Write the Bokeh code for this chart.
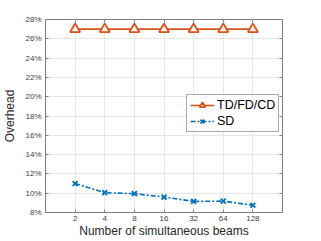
from bokeh.plotting import figure
from bokeh.models import FixedTicker, PrintfTickFormatter, LinearAxis, LogAxis, Legend, LegendItem, Range1d
from bokeh.embed import file_html
from bokeh.resources import INLINE

beams = [2, 4, 8, 16, 32, 64, 128]
beam_labels = ["2", "4", "8", "16", "32", "64", "128"]
td_fd_cd = [27.0, 27.0, 27.0, 27.0, 27.0, 27.0, 27.0]
sd = [11.0, 10.05, 9.95, 9.6, 9.15, 9.18, 8.75]
y_ticks = [8, 10, 12, 14, 16, 18, 20, 22, 24, 26, 28]

FONT = "Liberation Sans"
orange = "#D95319"
blue = "#0072BD"
axc = "#262626"

p = figure(width=305, height=240, output_backend="svg", toolbar_location=None,
           x_axis_type="log", x_range=Range1d(1, 256), y_range=Range1d(8, 28),
           min_border_left=10, min_border_right=23, min_border_top=19, min_border_bottom=0)
p.background_fill_color = "white"
p.border_fill_color = "white"
p.outline_line_color = "#808080"
p.outline_line_width = 1

for ax in (p.xaxis[0], p.yaxis[0]):
    ax.axis_line_color = "#808080"
    ax.major_tick_in = 3
    ax.major_tick_out = 0
    ax.minor_tick_line_color = None
    ax.major_tick_line_color = "#808080"
    ax.major_label_text_font = FONT
    ax.major_label_text_font_size = "8px"
    ax.major_label_text_color = "#404040"
    ax.axis_label_text_font = FONT
    ax.axis_label_text_font_size = "12px"
    ax.axis_label_text_font_style = "normal"
    ax.axis_label_text_color = axc

p.xaxis.ticker = FixedTicker(ticks=beams)
p.xaxis.major_label_overrides = {b: l for b, l in zip(beams, beam_labels)}
p.xaxis.axis_label = "Number of simultaneous beams"
p.xaxis.axis_label_standoff = 0
p.xaxis.major_label_standoff = 3

p.yaxis.ticker = FixedTicker(ticks=y_ticks)
p.yaxis.formatter = PrintfTickFormatter(format="%d%%")
p.yaxis.axis_label = "Overhead"
p.yaxis.axis_label_standoff = 5
p.yaxis.major_label_standoff = 4

# box ticks on top/right (no labels)
top = LogAxis(ticker=FixedTicker(ticks=beams),
              major_label_overrides={b: "" for b in beams},
              major_tick_in=3, major_tick_out=0, minor_tick_line_color=None,
              major_label_standoff=0,
              axis_line_color="#808080", major_tick_line_color="#808080")
right = LinearAxis(ticker=FixedTicker(ticks=y_ticks),
                   major_label_overrides={t: "" for t in y_ticks},
                   major_tick_in=3, major_tick_out=0, minor_tick_line_color=None,
                   major_label_standoff=0,
                   axis_line_color="#808080", major_tick_line_color="#808080")
p.add_layout(top, "above")
p.add_layout(right, "right")

p.xgrid.ticker = FixedTicker(ticks=beams)
p.ygrid.ticker = FixedTicker(ticks=y_ticks)
p.grid.grid_line_color = "#e6e6e6"
p.grid.grid_line_width = 1

l1 = p.line(beams, td_fd_cd, line_color=orange, line_width=1.6)
m1 = p.scatter(beams, td_fd_cd, marker="triangle", size=10, line_color=orange,
               fill_color="#fdf0ea", line_width=1.8)
l2 = p.line(beams, sd, line_color=blue, line_width=1.6, line_dash="5 2 2 2")
m2 = p.scatter(beams, sd, marker="x", size=7, line_color=blue, line_width=1.8)

legend = Legend(items=[LegendItem(label="TD/FD/CD", renderers=[l1, m1]),
                       LegendItem(label="SD", renderers=[l2, m2])],
                location=(141, 80), label_text_font=FONT, label_text_font_size="12.5px",
                label_text_color="#000000", border_line_color="#555555",
                border_line_width=1, glyph_width=24, glyph_height=14,
                label_standoff=3, padding=3, spacing=2, margin=0,
                label_height=14)
p.add_layout(legend, "center")

open("out.html", "w").write(file_html(p, INLINE))
